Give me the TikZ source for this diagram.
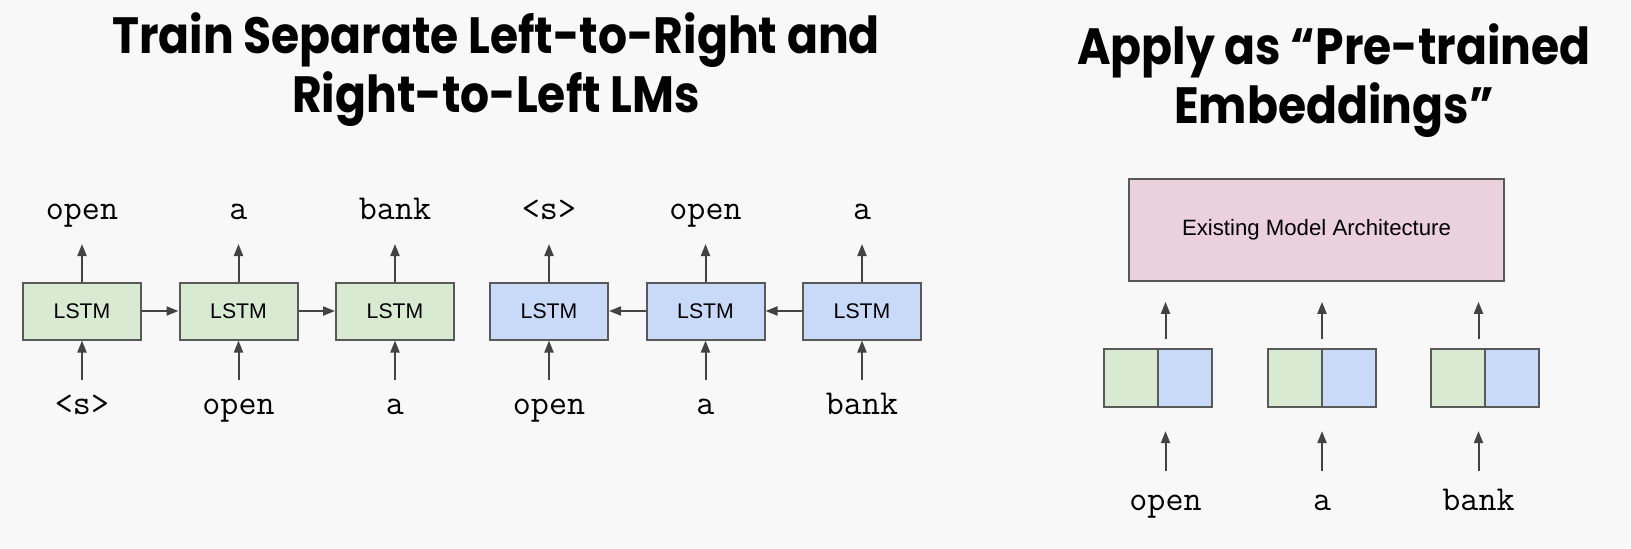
\documentclass[tikz,border=0pt]{standalone}
\usepackage{fontspec}
\usepackage{xcolor}
\usepackage{tikz}
\usetikzlibrary{arrows.meta, positioning, calc}
\newfontfamily\headfont{Poppins}[FakeStretch=0.895]
\newfontfamily\boxfont{Liberation Sans}

\definecolor{lstmgreen}{HTML}{D9EAD3}
\definecolor{lstmblue}{HTML}{C9DAF8}
\definecolor{archpink}{HTML}{EAD1DC}
\definecolor{edgegray}{HTML}{595959}
\definecolor{arrowgray}{HTML}{434343}
\definecolor{slidebg}{HTML}{F8F8F8}

\begin{document}
\begin{tikzpicture}[
  x=0.5pt, y=0.5pt,
  title/.style={
    font=\headfont\bfseries\fontsize{25.5}{29.5}\selectfont,
    align=center, anchor=base, inner sep=0pt
  },
  lstm/.style={
    rectangle, draw=edgegray, line width=1pt,
    minimum width=59pt, minimum height=28.5pt, inner sep=0pt,
    font=\boxfont\fontsize{10.6}{12}\selectfont
  },
  fwd/.style={lstm, fill=lstmgreen},
  bwd/.style={lstm, fill=lstmblue},
  half/.style={
    rectangle, draw=edgegray, line width=1pt,
    minimum width=27pt, minimum height=28.7pt, inner sep=0pt, outer sep=0pt
  },
  word/.style={
    font=\ttfamily\fontsize{17.5}{17.5}\selectfont,
    inner sep=0pt, text height=11pt, text depth=0pt
  },
  arr/.style={-{Triangle[length=6pt, width=4.5pt]}, line width=1pt, arrowgray},
]
  % Slide background
  \fill[slidebg] (0,0) rectangle (1631,548);
  \useasboundingbox (0,0) rectangle (1631,548);

  % Titles (base = last line)
  \node[title] (ttlL) at (496,436) {Train Separate Left-to-Right and\\Right-to-Left LMs};
  \node[title] (ttlR) at (1334,424.7) {Apply as “Pre-trained\\Embeddings”};

  % Left-to-right LM
  \node[fwd] (f1) at (82,237) {LSTM};
  \node[fwd, right=18.25pt of f1] (f2) {LSTM};
  \node[fwd, right=18.25pt of f2] (f3) {LSTM};

  % Right-to-left LM
  \node[bwd, right=17pt of f3] (b1) {LSTM};
  \node[bwd, right=18.25pt of b1] (b2) {LSTM};
  \node[bwd, right=18.25pt of b2] (b3) {LSTM};

  % Recurrence
  \draw[arr] (f1) -- (f2);
  \draw[arr] (f2) -- (f3);
  \draw[arr] (b2) -- (b1);
  \draw[arr] (b3) -- (b2);

  % Outputs
  \node[word, above=31pt of f1] (fo1) {open};
  \node[word, above=31pt of f2] (fo2) {a};
  \node[word, above=31pt of f3] (fo3) {bank};
  \node[word, above=31pt of b1] (bo1) {<s>};
  \node[word, above=31pt of b2] (bo2) {open};
  \node[word, above=31pt of b3] (bo3) {a};

  \draw[arr, shorten >=12.25pt] (f1) -- (fo1);
  \draw[arr, shorten >=12.25pt] (f2) -- (fo2);
  \draw[arr, shorten >=12.25pt] (f3) -- (fo3);
  \draw[arr, shorten >=12.25pt] (b1) -- (bo1);
  \draw[arr, shorten >=12.25pt] (b2) -- (bo2);
  \draw[arr, shorten >=12.25pt] (b3) -- (bo3);

  % Inputs
  \node[word, below=26pt of f1] (fi1) {<s>};
  \node[word, below=26pt of f2] (fi2) {open};
  \node[word, below=26pt of f3] (fi3) {a};
  \node[word, below=26pt of b1] (bi1) {open};
  \node[word, below=26pt of b2] (bi2) {a};
  \node[word, below=26pt of b3] (bi3) {bank};

  \draw[arr, shorten <=6.35pt] (fi1) -- (f1);
  \draw[arr, shorten <=6.35pt] (fi2) -- (f2);
  \draw[arr, shorten <=6.35pt] (fi3) -- (f3);
  \draw[arr, shorten <=6.35pt] (bi1) -- (b1);
  \draw[arr, shorten <=6.35pt] (bi2) -- (b2);
  \draw[arr, shorten <=6.35pt] (bi3) -- (b3);

  % Downstream model
  \node[rectangle, draw=edgegray, line width=1pt, fill=archpink,
    minimum width=187.5pt, minimum height=51.2pt,
    font=\boxfont\fontsize{11.1}{13}\selectfont] (arch) at (1316.5,318.2)
    {Existing Model Architecture};

  % Concatenated embeddings
  \node[half, fill=lstmgreen, anchor=east] (e1g) at (1157.7,170) {};
  \node[half, fill=lstmblue, right=0pt of e1g] (e1b) {};
  \node[half, fill=lstmgreen, anchor=east] (e2g) at (1321.7,170) {};
  \node[half, fill=lstmblue, right=0pt of e2g] (e2b) {};
  \node[half, fill=lstmgreen, anchor=east] (e3g) at (1485,170) {};
  \node[half, fill=lstmblue, right=0pt of e3g] (e3b) {};

  \node[word, anchor=base] (w1) at (1165.5,37.5) {open};
  \node[word, anchor=base] (w2) at (1322,37.5) {a};
  \node[word, anchor=base] (w3) at (1478.5,37.5) {bank};

  \draw[arr, shorten <=8.6pt, shorten >=12.2pt] (w1) -- (w1 |- e1g.south);
  \draw[arr, shorten <=8.6pt, shorten >=12.2pt] (w2) -- (w2 |- e2g.south);
  \draw[arr, shorten <=8.6pt, shorten >=12.2pt] (w3) -- (w3 |- e3g.south);

  \draw[arr, shorten <=5pt, shorten >=9.9pt] (w1 |- e1g.north) -- (w1 |- arch.south);
  \draw[arr, shorten <=5pt, shorten >=9.9pt] (w2 |- e2g.north) -- (w2 |- arch.south);
  \draw[arr, shorten <=5pt, shorten >=9.9pt] (w3 |- e3g.north) -- (w3 |- arch.south);
\end{tikzpicture}
\end{document}
